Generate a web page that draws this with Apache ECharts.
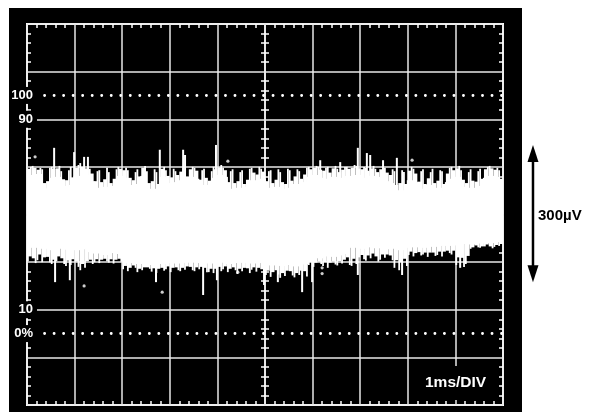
<!DOCTYPE html>
<html><head><meta charset="utf-8">
<script src="https://cdn.jsdelivr.net/npm/echarts@6/dist/echarts.min.js"></script>
<style>html,body{margin:0;padding:0;background:#fff}#c{width:597px;height:416px}</style>
</head><body><div id="c"></div>
<script>
// Scope trace: 1 ms/div horizontally, ~100 µV/div vertically (0 = screen centre)
const sampleStepMs = 0.1;
// tips of the thin upper spikes, µV
const topEdge = [100,102,98,95,98,100,102,91,93,100,104,108,102,96,91,93,98,89,95,100,98,93,89,95,102,91,95,89,100,93,96,91,98,95,100,98,93,96,91,100,104,98,91,95,89,93,96,98,100,96,91,93,95,89,96,93,95,91,98,100,102,100,98,100,102,96,100,100,104,102,100,98,102,96,100,98,95,91,93,89,100,96,91,95,89,96,93,91,98,100,102,93,89,95,91,96,100,102,98,93];
// dense upper fringe level, µV
const topFringe = [96,98,94,66,70,96,97,74,72,78,98,100,97,86,70,68,74,66,75,96,93,77,72,80,98,66,70,64,96,81,78,83,90,80,95,92,73,77,71,95,99,93,68,66,70,64,73,88,84,90,70,66,73,68,64,71,80,75,84,95,98,94,92,88,97,89,94,96,98,97,95,92,97,89,95,88,83,62,66,64,92,86,69,64,76,66,71,64,86,93,97,73,66,71,69,75,95,97,94,75];
// upper edge of the solid white core, µV
const topSolid = [83,81,85,51,55,77,79,60,58,62,81,79,83,70,56,54,58,52,60,81,77,62,58,64,81,51,54,49,79,66,62,68,72,64,79,75,58,62,56,77,83,79,54,51,56,49,58,72,68,75,56,51,58,54,49,56,64,60,68,79,83,77,75,70,79,72,77,81,79,83,77,75,81,72,79,70,66,47,51,49,72,68,54,49,62,51,56,49,68,75,79,58,51,56,54,60,77,81,79,60];
// lower edge of the solid white core, µV
const botSolid = [-68,-70,-66,-72,-70,-75,-72,-70,-74,-72,-75,-73,-70,-79,-82,-80,-85,-81,-79,-83,-98,-102,-100,-104,-101,-106,-103,-100,-104,-102,-99,-103,-101,-98,-100,-98,-102,-99,-103,-101,-97,-100,-104,-102,-99,-101,-98,-103,-100,-102,-104,-107,-105,-108,-103,-106,-109,-105,-104,-90,-87,-92,-88,-85,-89,-86,-83,-66,-70,-68,-72,-69,-66,-71,-68,-73,-70,-72,-75,-70,-66,-69,-67,-70,-65,-68,-66,-64,-66,-63,-65,-62,-60,-63,-58,-61,-57,-60,-58,-56];
// dense lower fringe level, µV
const botFringe = [-88,-92,-84,-90,-89,-95,-88,-92,-97,-94,-99,-104,-98,-95,-94,-95,-93,-94,-95,-93,-108,-112,-107,-114,-111,-111,-113,-114,-112,-109,-112,-111,-112,-109,-110,-111,-110,-112,-114,-114,-110,-109,-114,-111,-114,-112,-113,-111,-112,-115,-118,-121,-117,-123,-118,-119,-123,-118,-119,-100,-101,-99,-100,-101,-99,-98,-95,-90,-93,-90,-85,-86,-82,-88,-84,-84,-86,-96,-100,-93,-78,-81,-79,-80,-80,-80,-78,-78,-76,-76,-90,-91,-87,-69,-65,-67,-63,-67,-64,-62];
// tips of the thin lower spikes, µV
const botEdge = [-98,-102,-96,-100,-100,-104,-98,-104,-108,-106,-110,-117,-112,-104,-100,-102,-98,-101,-103,-99,-115,-119,-112,-121,-117,-114,-120,-123,-118,-115,-121,-117,-119,-116,-117,-119,-115,-121,-121,-123,-119,-115,-121,-117,-125,-119,-123,-116,-120,-124,-127,-131,-126,-133,-129,-128,-132,-127,-130,-106,-110,-104,-108,-112,-105,-107,-103,-106,-108,-104,-94,-97,-92,-99,-95,-91,-96,-112,-117,-108,-85,-88,-86,-84,-89,-87,-85,-88,-81,-84,-106,-110,-104,-72,-69,-70,-67,-71,-68,-66];
// isolated narrow spikes [ms, µV]
const spikes = [[0.57,140],[0.99,131],[1.20,121],[1.28,121],[2.79,136],[3.28,136],[3.32,125],[3.97,146],[6.16,114],[6.58,110],[6.95,140],[7.14,129],[7.21,125],[7.48,114],[7.77,119],
  [0.59,-142],[0.90,-138],[2.71,-142],[3.70,-169],[3.99,-138],[4.98,-148],[5.27,-142],[5.78,-163],[5.99,-142],[6.95,-127],[7.88,-127],[9.10,-112]];
// isolated dots [ms, µV]
const dots = [[0.17,121],[4.22,112],[8.09,114],[1.20,-150],[2.84,-163],[6.20,-112],[6.20,-124],[4.43,-121]];
// graticule reference levels (µV) and their labels
const refLevels = [250, 200, -200, -250];
const refLabels = ['100', '90', '10', '0%'];
const dottedLevels = [250, -250];
// 300 µV annotation arrow: x position (ms) and span (µV)
const arrowX = 10.63;
const arrowSpan = [-142, 146];

const bandData = topEdge.map((v, i) => [i * sampleStepMs, v, topFringe[i], topSolid[i], botSolid[i], botFringe[i], botEdge[i]]);

const FONT = "'Liberation Sans', Arial, sans-serif";
const GRID = {left: 27, top: 24, width: 476, height: 381, outerBoundsMode: 'none'};
const WHITE = '#fff';
const LINE = '#e8e8e8';
const minor = {show: true, splitNumber: 5, length: 4, lineStyle: {color: WHITE, width: 1.5}};

function renderBand(params, api) {
  const t = api.value(0);
  const a = api.coord([t, api.value(3)]);
  const b = api.coord([t + sampleStepMs, api.value(4)]);
  const w = b[0] - a[0];
  const yE = api.coord([t, api.value(1)])[1];
  const yF = api.coord([t, api.value(2)])[1];
  const yBF = api.coord([t, api.value(5)])[1];
  const yBE = api.coord([t, api.value(6)])[1];
  const fw = w * 0.8;
  const i = params.dataIndex;
  const last = i === topEdge.length - 1;
  const left = (i % 2) === 0;
  const fx = left ? a[0] : a[0] + w - fw;
  const sx = left ? a[0] + w - 0.9 : a[0] + 0.9;
  const left2 = (i % 3) !== 1;
  const fx2 = left2 ? a[0] + w - fw : a[0];
  const sx2 = left2 ? a[0] + 0.9 : a[0] + w - 0.9;
  return {type: 'group', children: [
    {type: 'rect', shape: {x: a[0] - (i === 0 ? 0 : 1), y: a[1], width: w + (last ? 0 : 1) + (i === 0 ? 0 : 1), height: b[1] - a[1]}, style: {fill: WHITE}},
    {type: 'rect', shape: {x: fx, y: yF, width: fw, height: a[1] - yF + 1}, style: {fill: WHITE}},
    {type: 'line', shape: {x1: sx, y1: yE, x2: sx, y2: a[1] + 1}, style: {stroke: WHITE, lineWidth: 1.8}},
    {type: 'rect', shape: {x: fx2, y: b[1] - 1, width: fw, height: yBF - b[1] + 1}, style: {fill: WHITE}},
    {type: 'line', shape: {x1: sx2, y1: b[1] - 1, x2: sx2, y2: yBE}, style: {stroke: WHITE, lineWidth: 1.8}}
  ]};
}
function renderSpike(params, api) {
  const p0 = api.coord([api.value(0), 0]);
  const p1 = api.coord([api.value(0), api.value(1)]);
  return {type: 'line', shape: {x1: p0[0], y1: p0[1], x2: p1[0], y2: p1[1]}, style: {stroke: WHITE, lineWidth: 2}};
}
function borderAxis(dim, grid, pos, split) {
  const o = {gridIndex: grid, type: 'value', position: pos, z: 1,
    axisLine: {show: false, onZero: false}, axisTick: {show: false, inside: true}, minorTick: minor,
    axisLabel: {show: false}, splitLine: {show: split, lineStyle: {color: LINE, width: 1.5}}};
  if (dim === 'x') { o.min = 0; o.max = 10; o.interval = 1; } else { o.min = -400; o.max = 400; o.interval = 100; }
  return o;
}
function centreAxis(dim, grid, inside) {
  const o = {gridIndex: grid, type: 'value', z: 1,
    axisLine: {show: true, onZero: true, lineStyle: {color: LINE, width: 1.5}}, axisTick: {show: false, inside: inside}, minorTick: minor,
    axisLabel: {show: false}, splitLine: {show: false}};
  if (dim === 'x') { o.min = -5; o.max = 5; o.interval = 1; } else { o.min = -400; o.max = 400; o.interval = 100; }
  return o;
}

const chart = echarts.init(document.getElementById('c'), null, {renderer: 'canvas'});
chart.setOption({
  animation: false,
  backgroundColor: '#fff',
  title: [
    {text: '1ms/DIV', left: 420, top: 366, padding: [9, 5], backgroundColor: '#000',
     textStyle: {color: WHITE, fontSize: 15.5, fontWeight: 'bold', fontFamily: FONT}},
    {text: '300µV', left: 538, top: 208, padding: 0,
     textStyle: {color: '#000', fontSize: 15, fontWeight: 'bold', fontFamily: FONT}}
  ],
  grid: [
    {left: 9, top: 8, width: 513, height: 404, show: true, backgroundColor: '#000', borderWidth: 0, z: 0, outerBoundsMode: 'none'},
    Object.assign({show: true, borderColor: WHITE, borderWidth: 2, backgroundColor: 'transparent', z: 1}, GRID),
    Object.assign({show: false}, GRID),
    Object.assign({show: false}, GRID),
    Object.assign({show: false}, GRID)
  ],
  xAxis: [
    {gridIndex: 0, type: 'value', show: false, min: 0, max: 1},
    borderAxis('x', 1, 'bottom', true),
    borderAxis('x', 1, 'top', false),
    centreAxis('x', 2, true),
    centreAxis('x', 3, false),
    {gridIndex: 4, type: 'value', show: false, min: 0, max: 10}
  ],
  yAxis: [
    {gridIndex: 0, type: 'value', show: false, min: 0, max: 1},
    borderAxis('y', 1, 'left', true),
    borderAxis('y', 1, 'right', false),
    centreAxis('y', 2, true),
    centreAxis('y', 3, false),
    {gridIndex: 4, type: 'value', min: -400, max: 400, interval: 50, position: 'left', z: 10,
     axisLine: {show: false, onZero: false}, axisTick: {show: false}, splitLine: {show: false},
     axisLabel: {show: true, customValues: refLevels, margin: -10, color: WHITE, fontSize: 13, fontWeight: 'bold',
       fontFamily: FONT, backgroundColor: '#000', padding: [2, 4, 2, 2],
       formatter: v => { const k = refLevels.indexOf(v); return k >= 0 ? refLabels[k] : ''; }}}
  ],
  series: [
    {type: 'custom', name: 'noise', xAxisIndex: 1, yAxisIndex: 1, z: 3, clip: false,
     dimensions: ['t', 'topEdge', 'topFringe', 'topSolid', 'botSolid', 'botFringe', 'botEdge'],
     encode: {x: 0, y: [1, 2, 3, 4, 5, 6]},
     data: bandData, renderItem: renderBand,
     markLine: {silent: true, symbol: ['none', 'none'], label: {show: false},
       lineStyle: {color: WHITE, width: 2.8, type: [0.1, 9.42], cap: 'round', dashOffset: 1.5},
       data: dottedLevels.map(v => ({yAxis: v}))}},
    {type: 'custom', name: 'spikes', xAxisIndex: 1, yAxisIndex: 1, z: 3, clip: false,
     encode: {x: 0, y: 1}, data: spikes, renderItem: renderSpike},
    {type: 'scatter', name: 'dots', xAxisIndex: 1, yAxisIndex: 1, z: 3, symbolSize: 3.2,
     itemStyle: {color: WHITE}, data: dots}
  ]
});

const pTop = chart.convertToPixel({seriesIndex: 0}, [arrowX, arrowSpan[1]]);
const pBot = chart.convertToPixel({seriesIndex: 0}, [arrowX, arrowSpan[0]]);
const hx = pTop[0], headH = 17, headW = 5.5;
chart.setOption({
  graphic: [
    {type: 'line', shape: {x1: hx, y1: pTop[1] + headH - 2, x2: hx, y2: pBot[1] - headH + 2}, style: {stroke: '#000', lineWidth: 2.5}},
    {type: 'polygon', shape: {points: [[hx, pTop[1]], [hx - headW, pTop[1] + headH], [hx + headW, pTop[1] + headH]]}, style: {fill: '#000'}},
    {type: 'polygon', shape: {points: [[hx, pBot[1]], [hx - headW, pBot[1] - headH], [hx + headW, pBot[1] - headH]]}, style: {fill: '#000'}}
  ]
});
</script>
</body></html>
